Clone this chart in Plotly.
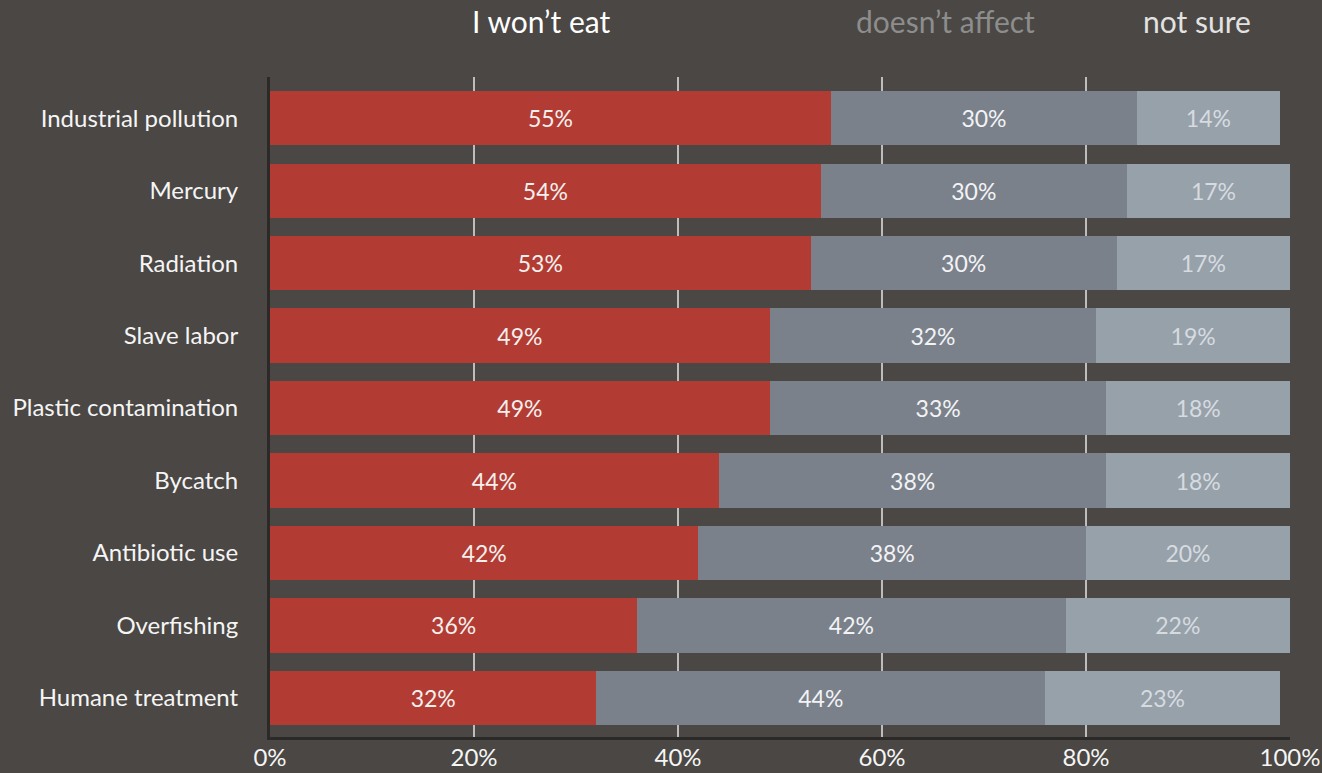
import plotly.graph_objects as go

categories = ["Industrial pollution", "Mercury", "Radiation", "Slave labor",
              "Plastic contamination", "Bycatch", "Antibiotic use",
              "Overfishing", "Humane treatment"]
wont_eat = [55, 54, 53, 49, 49, 44, 42, 36, 32]
doesnt_affect = [30, 30, 30, 32, 33, 38, 38, 42, 44]
not_sure = [14, 17, 17, 19, 18, 18, 20, 22, 23]
tick_vals = [0, 20, 40, 60, 80, 100]
tick_text = ["0%", "20%", "40%", "60%", "80%", "100%"]

FONT = "Lato, 'Open Sans', sans-serif"
BG = "#4a4744"

series = [
    ("I won\u2019t eat", wont_eat, "#b23c33", "#f4f0ee", "#ffffff", 26.6),
    ("doesn\u2019t affect", doesnt_affect, "#7a818a", "#f2f3f5", "#8d8d8d", 66.2),
    ("not sure", not_sure, "#97a1aa", "#d6dbe0", "#e2e2e2", 90.9),
]

fig = go.Figure()
for name, vals, color, txtcolor, _, _ in series:
    fig.add_trace(go.Bar(
        y=categories, x=vals, name=name, orientation="h",
        marker=dict(color=color, line=dict(width=0)),
        text=[f"{v}%" for v in vals], textposition="inside",
        insidetextanchor="middle", textangle=0,
        textfont=dict(family=FONT, size=23, color=txtcolor),
        hoverinfo="skip",
    ))

annotations = []
for name, _, _, _, hdrcolor, xpos in series:
    annotations.append(dict(
        text=name, x=xpos, xref="x", y=1.085, yref="paper",
        yanchor="middle", xanchor="center", showarrow=False,
        font=dict(family=FONT, size=30, color=hdrcolor),
    ))

fig.update_layout(
    width=1322, height=773,
    barmode="stack", bargap=0.25,
    paper_bgcolor=BG, plot_bgcolor=BG,
    margin=dict(l=270, r=32, t=77, b=36, autoexpand=False),
    showlegend=False,
    uniformtext=dict(mode="show", minsize=23),
    annotations=annotations,
    xaxis=dict(
        range=[0, 100], tickvals=tick_vals, ticktext=tick_text,
        showgrid=True, gridcolor="#bdbdbd", gridwidth=2,
        zeroline=False, showline=True, linecolor="#2b2a29", linewidth=3,
        ticks="", ticklen=4, ticklabelstandoff=-3,
        tickfont=dict(family=FONT, size=24, color="#f5f5f5"),
        automargin=False, fixedrange=True,
    ),
    yaxis=dict(
        categoryorder="array", categoryarray=categories,
        autorange=False, range=[8.54, -0.57],
        showgrid=False, zeroline=False,
        showline=True, linecolor="#2b2a29", linewidth=3,
        ticks="outside", ticklen=24, tickcolor="rgba(0,0,0,0)",
        tickfont=dict(family=FONT, size=24, color="#f5f5f5"),
        automargin=False, fixedrange=True,
    ),
)

fig.write_html("out.html")
